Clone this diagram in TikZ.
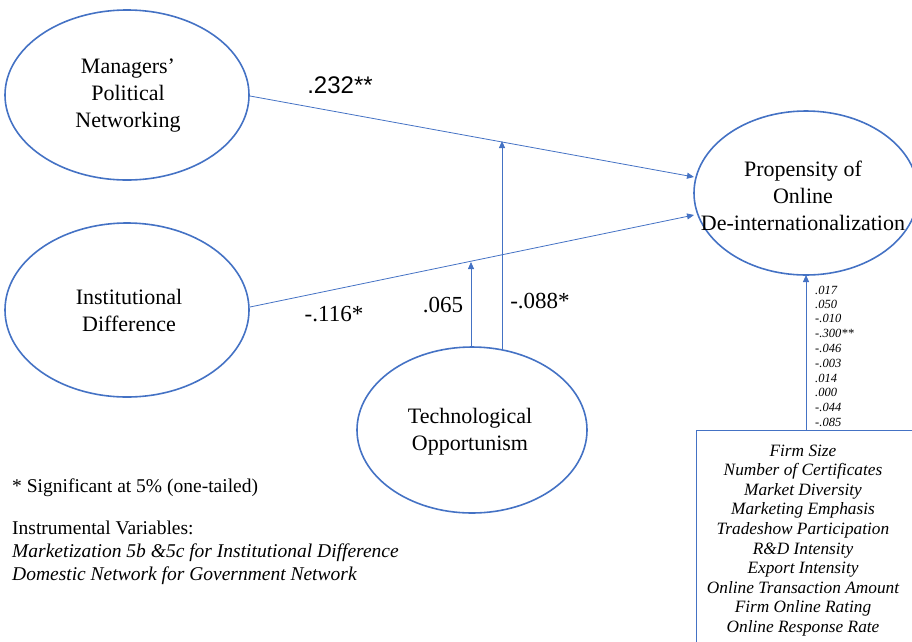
\documentclass[tikz,border=0pt]{standalone}
\usepackage{fontspec}
\setmainfont{Liberation Serif}
\newfontfamily\arialfont{Liberation Sans}
\usetikzlibrary{arrows.meta}
\definecolor{lineblue}{RGB}{68,114,196}
\tikzset{
  conn/.style={draw=lineblue, line width=0.8pt, -{Triangle[length=7pt,width=6pt]}},
  vtext/.style={align=center, font=\fontsize{22}{27}\selectfont, inner sep=0pt},
  coef/.style={font=\fontsize{23}{26}\selectfont, inner sep=0pt},
  small/.style={font=\fontsize{12.5}{14}\selectfont\itshape, inner sep=0pt, anchor=west},
  legend/.style={font=\fontsize{19.5}{23}\selectfont, inner sep=0pt, anchor=west, align=left}
}
\begin{document}
\begin{tikzpicture}[x=1pt,y=-1pt]
\useasboundingbox (0,0) rectangle (912,641);
\clip (0,0) rectangle (912,641);
% ellipses
\draw[lineblue, line width=1.6pt] (127,95) ellipse [x radius=122, y radius=85];
\draw[lineblue, line width=1.6pt] (127,310) ellipse [x radius=122, y radius=87];
\draw[lineblue, line width=1.6pt] (472,430) ellipse [x radius=115, y radius=83];
\draw[lineblue, line width=1.6pt] (806,193) ellipse [x radius=112, y radius=82];
\node[vtext] (mpn) at (128,96) {Managers'\\Political\\Networking};
\node[vtext] (ind) at (129,310) {Institutional\\Difference};
\node[vtext] (tec) at (470,432) {Technological\\Opportunism};
\node[vtext] (pod) at (803,196) {Propensity of\\Online\\De-internationalization};
% anchor coordinates
\coordinate (mR) at (250,96);
\coordinate (iR) at (250,307);
\coordinate (pA) at (694,177);
\coordinate (pB) at (694,215);
\coordinate (t1) at (471,347);
\coordinate (t2) at (502,350);
\coordinate (x1) at (471,262);
\coordinate (x2) at (502,141);
\coordinate (pBot) at (806,275);
\coordinate (bTop) at (806,430);
\draw[conn] (mR) -- (pA);
\draw[conn] (iR) -- (pB);
\draw[conn] (t1) -- (x1);
\draw[conn] (t2) -- (x2);
\draw[conn] (bTop) -- (pBot);
% coefficient labels
\node[coef, font=\fontsize{24}{26}\selectfont\arialfont] (c1) at (340,85) {.232**};
\node[coef] (c2) at (334,314) {-.116*};
\node[coef] (c3) at (443,305) {.065};
\node[coef] (c4) at (540,301) {-.088*};
% control coefficients
\node[small] (k1) at (815,290) {.017};
\node[small] (k2) at (815,304) {.050};
\node[small] (k3) at (815,318) {-.010};
\node[small] (k4) at (815,333) {-.300**};
\node[small] (k5) at (815,348) {-.046};
\node[small] (k6) at (815,363) {-.003};
\node[small] (k7) at (815,378) {.014};
\node[small] (k8) at (815,392) {.000};
\node[small] (k9) at (815,407) {-.044};
\node[small] (k10) at (815,422) {-.085};
% control box
\draw[lineblue, line width=0.9pt] (696,430) rectangle (930,660);
\node[align=center, font=\fontsize{17.3}{19.6}\selectfont\itshape, anchor=north] (ctl) at (803,441)
{Firm Size\\Number of Certificates\\Market Diversity\\Marketing Emphasis\\Tradeshow Participation\\R\&D Intensity\\Export Intensity\\Online Transaction Amount\\Firm Online Rating\\Online Response Rate};
% legend
\node[legend] (l1) at (12,488) {* Significant at 5\% (one-tailed)};
\node[legend, anchor=north west] (l2) at (12,521) {Instrumental Variables:\\\textit{Marketization 5b \&5c for Institutional Difference}\\\textit{Domestic Network for Government Network}};
\end{tikzpicture}
\end{document}
